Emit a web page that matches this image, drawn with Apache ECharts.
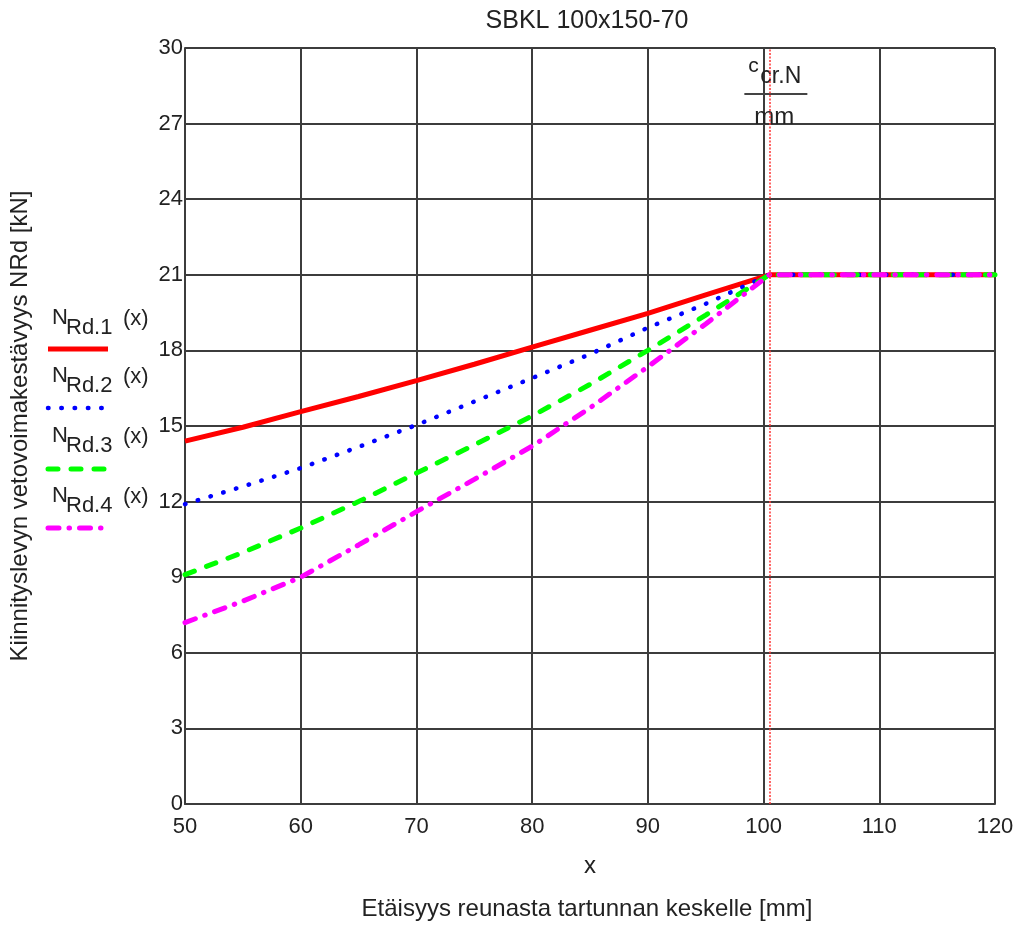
<!DOCTYPE html>
<html>
<head>
<meta charset="utf-8">
<script src="https://cdn.jsdelivr.net/npm/echarts@6/dist/echarts.min.js"></script>
<style>
html,body{margin:0;padding:0;background:#fff;}
#chart{width:1025px;height:926px;}
</style>
</head>
<body>
<div id="chart"></div>
<script>
// ---- data ----
const xValues = [50, 55, 60, 65, 70, 75, 80, 85, 90, 95, 100.5, 120];
const nRd1 = [14.4, 14.95, 15.57, 16.17, 16.8, 17.45, 18.13, 18.8, 19.47, 20.2, 21, 21];
const nRd2 = [11.9, 12.6, 13.33, 14.17, 15.04, 15.97, 16.9, 17.85, 18.9, 19.85, 21, 21];
const nRd3 = [9.1, 9.98, 10.95, 12.0, 13.13, 14.25, 15.4, 16.65, 18.0, 19.4, 21, 21];
const nRd4 = [7.2, 8.05, 9.0, 10.28, 11.6, 12.88, 14.2, 15.72, 17.35, 19.05, 21, 21];
const cCrN = 100.5;
const seriesNames = ['N_Rd.1(x)', 'N_Rd.2(x)', 'N_Rd.3(x)', 'N_Rd.4(x)'];
const legendSubs = ['Rd.1', 'Rd.2', 'Rd.3', 'Rd.4'];

const FONT = '"Liberation Sans", Arial, sans-serif';
const gridColor = '#3c3c3c';
const textColor = '#222';

function pairs(ys) { return xValues.map((x, i) => [x, ys[i]]); }

const styles = [
  { color: '#ff0000', width: 5, type: 'solid', cap: 'butt' },
  { color: '#0000ff', width: 4.5, type: [0.5, 12.8], cap: 'round' },
  { color: '#00ff00', width: 5, type: [10, 13], cap: 'round' },
  { color: '#ff00ff', width: 5, type: [11, 10, 0.5, 10], cap: 'round' }
];
const allData = [nRd1, nRd2, nRd3, nRd4];

const chart = echarts.init(document.getElementById('chart'));

const series = allData.map((d, i) => ({
  name: seriesNames[i],
  type: 'line',
  data: pairs(d),
  showSymbol: false,
  smooth: false,
  lineStyle: { color: styles[i].color, width: styles[i].width, type: styles[i].type, cap: styles[i].cap },
  z: 3 + i
}));
series[0].markLine = {
  silent: true,
  symbol: 'none',
  label: { show: false },
  lineStyle: { color: '#ff3333', width: 1.5, type: [2, 1.5] },
  data: [{ xAxis: cCrN }],
  z: 10
};

chart.setOption({
  animation: false,
  backgroundColor: '#ffffff',
  title: {
    text: 'SBKL 100x150-70',
    left: 582, top: 4, textAlign: 'center',
    textStyle: { fontFamily: FONT, fontSize: 25, fontWeight: 'normal', color: textColor }
  },
  grid: { left: 183, right: 30, top: 48, bottom: 122, containLabel: false },
  xAxis: {
    type: 'value', min: 50, max: 120, interval: 10,
    name: 'x', nameLocation: 'middle', nameGap: 50,
    nameTextStyle: { fontFamily: FONT, fontSize: 24, color: textColor },
    axisLine: { show: true, lineStyle: { color: gridColor, width: 2 } },
    axisTick: { show: false },
    axisLabel: { fontFamily: FONT, fontSize: 22, color: textColor, margin: 12 },
    splitLine: { show: true, lineStyle: { color: gridColor, width: 2 } }
  },
  yAxis: {
    type: 'value', min: 0, max: 30, interval: 3,
    name: 'Kiinnityslevyn vetovoimakestävyys NRd [kN]', nameLocation: 'middle', nameGap: 153,
    nameTextStyle: { fontFamily: FONT, fontSize: 24, color: textColor },
    axisLine: { show: true, lineStyle: { color: gridColor, width: 2 } },
    axisTick: { show: false },
    axisLabel: { fontFamily: FONT, fontSize: 22, color: textColor, margin: 2 },
    splitLine: { show: true, lineStyle: { color: gridColor, width: 2 } }
  },
  series: series
});

// ---- annotations & legend ----
const px = chart.convertToPixel({ gridIndex: 0 }, [cCrN, 30]);
const cx = px[0] + 6;
const legendMid = [318, 376, 436, 496];
const legendLineY = [349, 408, 469, 528];
const graphics = [
  { type: 'text', x: 587, y: 909, style: { text: 'Etäisyys reunasta tartunnan keskelle [mm]', font: '24px ' + FONT, fill: textColor, textAlign: 'center', textVerticalAlign: 'middle' } },
  { type: 'text', x: cx - 27, y: 66, style: { text: 'c', font: '21px ' + FONT, fill: textColor, textVerticalAlign: 'middle' } },
  { type: 'text', x: cx - 15, y: 77, style: { text: 'cr.N', font: '23px ' + FONT, fill: textColor, textVerticalAlign: 'middle' } },
  { type: 'line', shape: { x1: cx - 31, y1: 94, x2: cx + 32, y2: 94 }, style: { stroke: '#444', lineWidth: 2 } },
  { type: 'text', x: cx - 1, y: 117, style: { text: 'mm', font: '24px ' + FONT, fill: textColor, textAlign: 'center', textVerticalAlign: 'middle' } }
];
legendMid.forEach((m, i) => {
  graphics.push({ type: 'text', x: 52, y: m, style: { text: 'N', font: '22px ' + FONT, fill: textColor, textVerticalAlign: 'middle' } });
  graphics.push({ type: 'text', x: 66, y: m + 10, style: { text: legendSubs[i], font: '22px ' + FONT, fill: textColor, textVerticalAlign: 'middle' } });
  graphics.push({ type: 'text', x: 123, y: m + 1, style: { text: '(x)', font: '22px ' + FONT, fill: textColor, textVerticalAlign: 'middle' } });
  const st = styles[i];
  graphics.push({
    type: 'line',
    shape: { x1: 48, y1: legendLineY[i], x2: 108, y2: legendLineY[i] },
    style: { stroke: st.color, lineWidth: st.width, lineDash: st.type === 'solid' ? null : st.type, lineCap: st.cap }
  });
});
chart.setOption({ graphic: graphics });
</script>
</body>
</html>
